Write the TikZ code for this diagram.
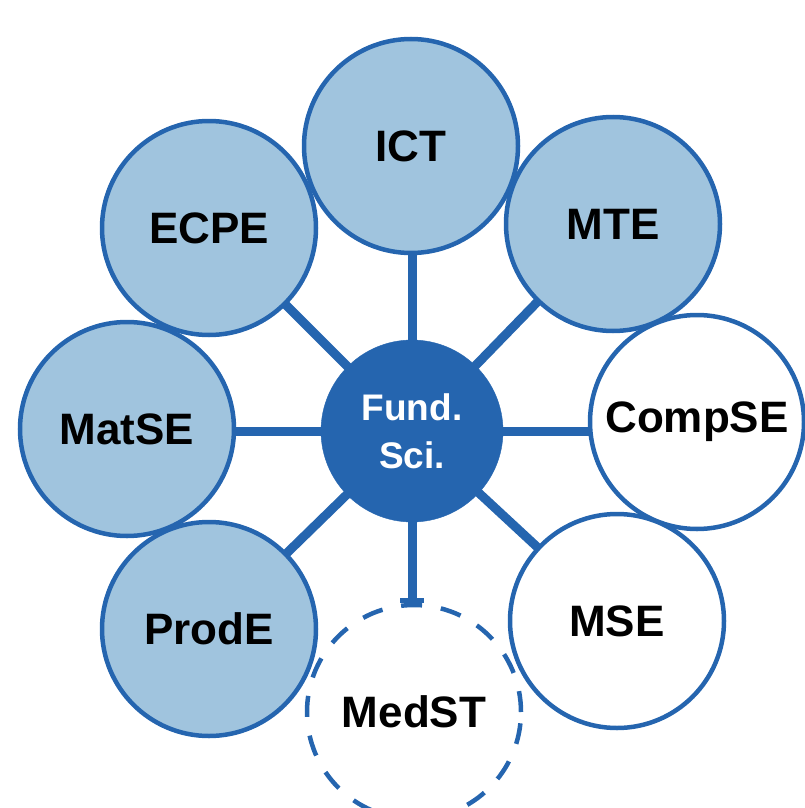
\documentclass[tikz,border=0pt]{standalone}
\usepackage{fontspec}
\setmainfont{Liberation Sans}
\usetikzlibrary{arrows.meta,backgrounds}
\definecolor{dkblue}{RGB}{37,101,175}
\definecolor{ltblue}{RGB}{160,196,222}
\tikzset{
  hub/.style={circle, fill=dkblue, draw=dkblue, minimum size=182pt, inner sep=0pt,
    text=white, align=center, font=\fontsize{37}{48}\selectfont\bfseries},
  field/.style={circle, draw=dkblue, line width=4.5pt, minimum size=214pt, inner sep=0pt,
    font=\fontsize{44}{52}\selectfont\bfseries},
  active/.style={field, fill=ltblue},
  plain/.style={field, fill=white},
  planned/.style={field, dash pattern=on 21pt off 19pt},
  spoke/.style={draw=dkblue, line width=9pt},
}
\begin{document}
\begin{tikzpicture}[x=1pt,y=-1pt]
\useasboundingbox (0,0) rectangle (805,808);
\node[hub] (fs) at (412,431) {Fund.\\Sci.};
\node[active] (ict) at (411,146) {ICT};
\node[active] (ecpe) at (209,228) {ECPE};
\node[active] (mte) at (613,224) {MTE};
\node[active] (matse) at (127,429) {MatSE};
\node[plain] (compse) at (697,422) {CompSE};
\node[active] (prode) at (209,629) {ProdE};
\node[plain] (mse) at (617,621) {MSE};
\node[planned] (medst) at (414,712) {MedST};
\begin{scope}[on background layer]
  \draw[spoke] (fs.center) -- (fs.center |- ict.center);
  \draw[spoke] (fs.center) -- (ecpe.center);
  \draw[spoke] (fs.center) -- (mte.center);
  \draw[spoke] (fs.center) -- (fs.center -| matse.center);
  \draw[spoke] (fs.center) -- (fs.center -| compse.center);
  \draw[spoke] (fs.center) -- (prode.center);
  \draw[spoke] (fs.center) -- (mse.center);
  \draw[spoke, -{Rectangle[length=5pt,width=24pt]}] (fs.center) -- (fs.center |- medst.north);
\end{scope}
\end{tikzpicture}
\end{document}
